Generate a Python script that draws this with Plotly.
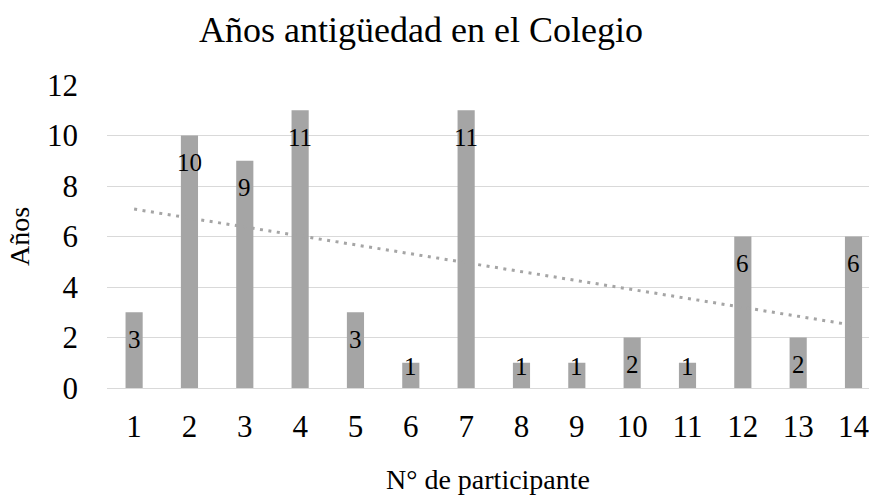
import numpy as np
import plotly.graph_objects as go

participantes = list(range(1, 15))
anios = [3, 10, 9, 11, 3, 1, 11, 1, 1, 2, 1, 6, 2, 6]
y_ticks = [0, 2, 4, 6, 8, 10, 12]

BAR = "#A5A5A5"
FONT = "Liberation Serif"

coef = np.polyfit(participantes, anios, 1)
trend = np.polyval(coef, participantes)

fig = go.Figure()
fig.add_trace(go.Bar(x=participantes, y=anios, marker=dict(color=BAR, line=dict(width=0)),
                     width=0.31, hoverinfo="skip"))
fig.add_trace(go.Scatter(x=participantes, y=trend, mode="lines",
                         line=dict(color=BAR, width=3, dash="3px,5.5px"), hoverinfo="skip"))

px_per_unit = 303 / 12
for c, v in zip(participantes, anios):
    shift = -min(27, px_per_unit * v - 22)
    fig.add_annotation(x=c, y=v, text=str(v), showarrow=False, yshift=shift,
                       font=dict(family=FONT, size=25, color="#000000"))

fig.update_layout(
    width=869, height=498,
    margin=dict(l=107, r=0, t=85, b=110),
    paper_bgcolor="white", plot_bgcolor="white",
    showlegend=False,
    title=dict(text="Años antigüedad en el Colegio", x=0.4845, xanchor="center",
               y=0.94, yanchor="middle",
               font=dict(family=FONT, size=36, color="#000000")),
    font=dict(family=FONT, color="#000000"),
)
fig.update_xaxes(range=[0.51, 14.28], tickvals=participantes, showgrid=False, showline=False,
                 zeroline=False, tickfont=dict(size=31, family=FONT), ticklabelstandoff=17,
                 ticklabeloverflow="allow", automargin=False,
                 title=dict(text="N° de participante", font=dict(size=28, family=FONT), standoff=26))
fig.update_yaxes(range=[0, 12], tickvals=y_ticks, showgrid=True, gridcolor="#D9D9D9", gridwidth=1.3,
                 zeroline=True, zerolinecolor="#D9D9D9", zerolinewidth=1.3, showline=False,
                 tickfont=dict(size=31, family=FONT), ticklabelstandoff=28, automargin=False,
                 title=dict(text="Años", font=dict(size=28, family=FONT), standoff=9))

fig.write_html("out.html", config={"displayModeBar": False},
               post_script="document.body.style.margin='0';")
